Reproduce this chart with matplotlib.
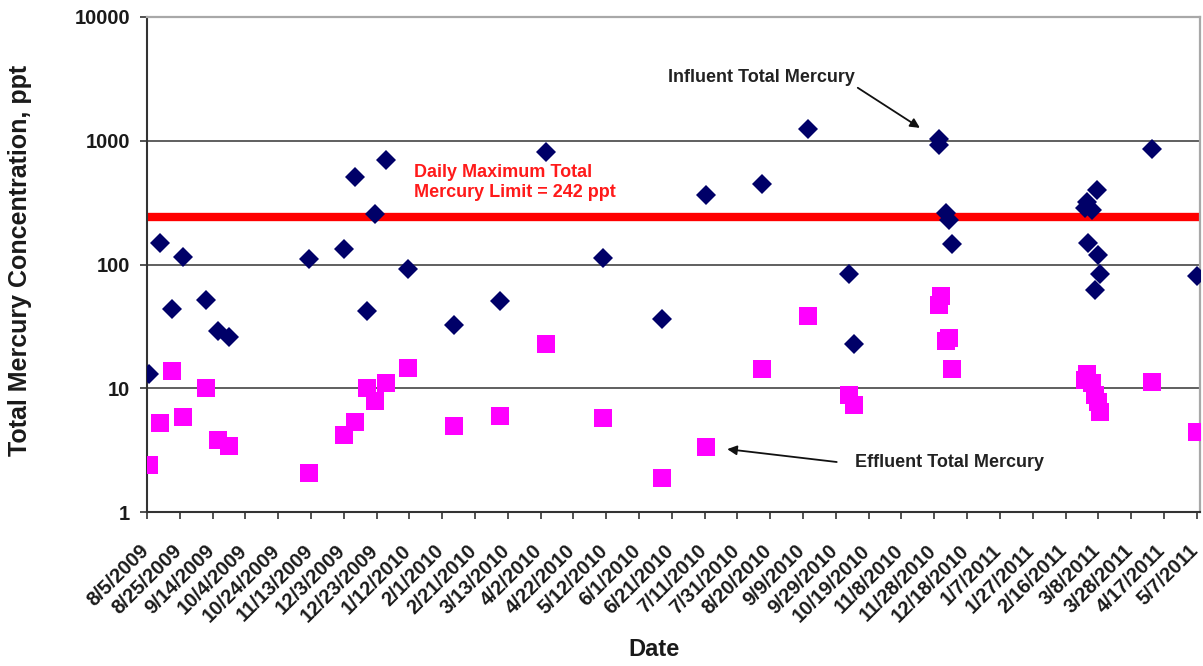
import matplotlib
matplotlib.use('Agg')
from datetime import datetime
import matplotlib.pyplot as plt
import matplotlib.dates as mdates
from matplotlib.ticker import FixedLocator, FixedFormatter, NullLocator
from matplotlib.transforms import ScaledTranslation

plt.rcParams['font.family'] = ['Liberation Sans', 'DejaVu Sans']
plt.rcParams['font.weight'] = 'bold'

# influent / effluent total mercury samples (ppt)
influent_dates = ['8/6/2009', '8/13/2009', '8/20/2009', '8/27/2009', '9/10/2009',
                  '9/17/2009', '9/24/2009', '11/12/2009', '12/3/2009', '12/10/2009',
                  '12/17/2009', '12/22/2009', '12/29/2009', '1/11/2010', '2/8/2010',
                  '3/8/2010', '4/5/2010', '5/10/2010', '6/15/2010', '7/12/2010',
                  '8/15/2010', '9/12/2010', '10/7/2010', '10/10/2010', '12/1/2010',
                  '12/1/2010', '12/5/2010', '12/7/2010', '12/9/2010', '2/28/2011',
                  '3/1/2011', '3/2/2011', '3/4/2011', '3/6/2011', '3/7/2011',
                  '3/8/2011', '3/9/2011', '4/10/2011', '5/7/2011']
influent_ppt = [13, 150, 44, 114, 52,
                29, 26, 111, 133, 514,
                42, 258, 704, 92, 32.5,
                50.5, 807, 113, 36, 366,
                451, 1254, 84, 22.6, 930,
                1040, 261, 230, 147, 284,
                321, 148, 276, 62, 400,
                120, 84.5, 860, 80]

effluent_dates = ['8/6/2009', '8/13/2009', '8/20/2009', '8/27/2009', '9/10/2009',
                  '9/17/2009', '9/24/2009', '11/12/2009', '12/3/2009', '12/10/2009',
                  '12/17/2009', '12/22/2009', '12/29/2009', '1/11/2010', '2/8/2010',
                  '3/8/2010', '4/5/2010', '5/10/2010', '6/15/2010', '7/12/2010',
                  '8/15/2010', '9/12/2010', '10/7/2010', '10/10/2010', '12/1/2010',
                  '12/2/2010', '12/5/2010', '12/7/2010', '12/9/2010', '2/28/2011',
                  '3/1/2011', '3/4/2011', '3/6/2011', '3/8/2011', '3/9/2011',
                  '4/10/2011', '5/7/2011']
effluent_ppt = [2.4, 5.2, 13.7, 5.9, 10,
                3.8, 3.4, 2.06, 4.2, 5.3,
                10, 7.9, 11.1, 14.5, 5.0,
                6.0, 22.6, 5.8, 1.9, 3.35,
                14.4, 38.5, 8.8, 7.3, 47,
                56, 24, 25.6, 14.4, 11.7,
                13, 11, 8.8, 7.8, 6.45,
                11.2, 4.4]

limit_ppt = 242

date_ticks = ['8/5/2009', '8/25/2009', '9/14/2009', '10/4/2009', '10/24/2009',
              '11/13/2009', '12/3/2009', '12/23/2009', '1/12/2010', '2/1/2010',
              '2/21/2010', '3/13/2010', '4/2/2010', '4/22/2010', '5/12/2010',
              '6/1/2010', '6/21/2010', '7/11/2010', '7/31/2010', '8/20/2010',
              '9/9/2010', '9/29/2010', '10/19/2010', '11/8/2010', '11/28/2010',
              '12/18/2010', '1/7/2011', '1/27/2011', '2/16/2011', '3/8/2011',
              '3/28/2011', '4/17/2011', '5/7/2011']
conc_ticks = [1, 10, 100, 1000, 10000]


def to_num(dates):
    return [mdates.date2num(datetime.strptime(d, '%m/%d/%Y')) for d in dates]


fig = plt.figure(figsize=(12.03, 6.66), dpi=100)
ax = fig.add_axes([147 / 1203, 1 - 512 / 666, 1053 / 1203, 495 / 666])

ax.axhline(limit_ppt, color='#ff0000', lw=6, zorder=2)
ax.plot(to_num(effluent_dates), effluent_ppt, 's', color='#ff00ff',
        markersize=13, markeredgewidth=0, zorder=3)
ax.plot(to_num(influent_dates), influent_ppt, 'D', color='#000068',
        markersize=10, markeredgewidth=0, zorder=4)

ax.set_yscale('log')
ax.set_ylim(1, 10000)
ax.yaxis.set_major_locator(FixedLocator(conc_ticks))
ax.yaxis.set_major_formatter(FixedFormatter([str(v) for v in conc_ticks]))
ax.yaxis.set_minor_locator(NullLocator())

tick_pos = to_num(date_ticks)
ax.set_xlim(tick_pos[0], tick_pos[-1] + 2)
ax.xaxis.set_major_locator(FixedLocator(tick_pos))
ax.xaxis.set_major_formatter(FixedFormatter(date_ticks))
ax.xaxis.set_minor_locator(NullLocator())

ax.grid(axis='y', color='#444444', lw=1.2)
ax.set_axisbelow(True)

for side in ['top', 'right']:
    ax.spines[side].set_color('#a8a8a8')
    ax.spines[side].set_linewidth(1.6)
for side in ['left', 'bottom']:
    ax.spines[side].set_color('#333333')
    ax.spines[side].set_linewidth(1.5)

ax.tick_params(axis='y', length=5, width=1.2, color='#333333', pad=7,
               labelsize=14.5, labelcolor='#1a1a1a')
ax.tick_params(axis='x', length=5, width=1.2, color='#333333', pad=16,
               labelsize=14.5, labelcolor='#1a1a1a')
shift = ScaledTranslation(-8 / 100, 0, fig.dpi_scale_trans)
for lab in ax.get_xticklabels():
    lab.set_rotation(45)
    lab.set_ha('right')
    lab.set_va('top')
    lab.set_rotation_mode('anchor')
    lab.set_transform(lab.get_transform() + shift)

ax.set_ylabel('Total Mercury Concentration, ppt', fontsize=18,
              fontweight='bold', color='#1a1a1a', va='center')
ax.yaxis.set_label_coords(-0.1206, 0.508)
ax.set_xlabel('Date', fontsize=17, fontweight='bold', color='#1a1a1a')
ax.xaxis.set_label_coords(0.4815, -0.255)

ax.text(0.2536, 0.666, 'Daily Maximum Total\nMercury Limit = 242 ppt',
        transform=ax.transAxes, color='#ff1a1a', fontsize=13,
        fontweight='bold', va='center', ha='left', linespacing=1.2)

arrow = dict(arrowstyle='-|>', color='#111111', lw=1.3, mutation_scale=14,
             shrinkA=0, shrinkB=0)
ax.text(0.495, 0.877, 'Influent Total Mercury', transform=ax.transAxes,
        fontsize=13, fontweight='bold', color='#222222', va='center', ha='left')
ax.annotate('', xy=(0.734, 0.776), xytext=(0.675, 0.857),
            xycoords='axes fraction', textcoords='axes fraction', arrowprops=arrow)
ax.text(0.672, 0.099, 'Effluent Total Mercury', transform=ax.transAxes,
        fontsize=13, fontweight='bold', color='#222222', va='center', ha='left')
ax.annotate('', xy=(0.551, 0.127), xytext=(0.655, 0.101),
            xycoords='axes fraction', textcoords='axes fraction', arrowprops=arrow)

fig.savefig('out.png', dpi=100)
